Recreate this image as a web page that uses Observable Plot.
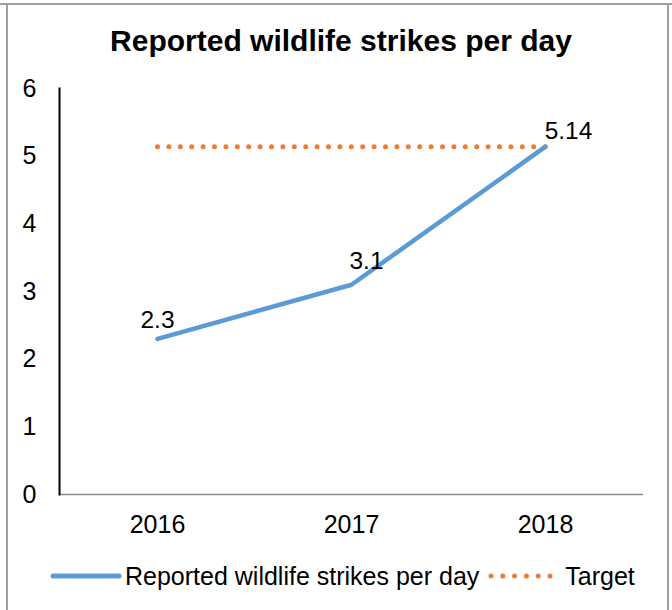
<!DOCTYPE html>
<html>
<head>
<meta charset="utf-8">
<script src="https://cdn.jsdelivr.net/npm/d3@7"></script>
<script src="https://cdn.jsdelivr.net/npm/@observablehq/plot@0.6"></script>
<style>
  html, body { margin: 0; padding: 0; background: #fff; }
  #wrap { position: relative; width: 672px; height: 610px; overflow: hidden; background: #fff;
          font-family: "Liberation Sans", Arial, sans-serif; color: #000; }
  .bline { position: absolute; background: #a0a0a0; }
  #title { position: absolute; left: 0; width: 682px; top: 23px; text-align: center;
           font-size: 30px; font-weight: bold; line-height: 36px; }
  #chart { position: absolute; left: 0; top: 0; }
  #legend { position: absolute; left: 50px; top: 561px; height: 30px; display: flex; align-items: center;
            font-size: 25px; white-space: nowrap; }
  #legend svg { display: block; }
</style>
</head>
<body>
<div id="wrap">
  <div class="bline" style="left:0;top:3px;width:672px;height:2px"></div>
  <div class="bline" style="left:6px;top:3px;width:2px;height:607px"></div>
  <div class="bline" style="left:667px;top:3px;width:2px;height:607px"></div>
  <div id="title"></div>
  <div id="chart"></div>
  <div id="legend"></div>
</div>
<script>
const titleText = "Reported wildlife strikes per day";
const years = ["2016", "2017", "2018"];
const strikes = [2.3, 3.1, 5.14];
const target = [5.14, 5.14, 5.14];
const yTicks = [0, 1, 2, 3, 4, 5, 6];
const seriesNames = ["Reported wildlife strikes per day", "Target"];

const blue = "#5B9BD5";
const orange = "#ED7D31";

const strikeRows = years.map((y, i) => ({year: y, value: strikes[i], label: String(strikes[i])}));
const targetRows = years.map((y, i) => ({year: y, value: target[i]}));

document.getElementById("title").textContent = titleText;

const labelOffsets = [
  {dx: 0, dy: -19},
  {dx: 15, dy: -24},
  {dx: 23, dy: -16}
];

const labelMarks = strikeRows.map((r, i) =>
  Plot.text([r], {x: "year", y: "value", text: "label", fontSize: 24.5, fill: "#000",
                  dx: labelOffsets[i].dx, dy: labelOffsets[i].dy})
);

const chart = Plot.plot({
  width: 672,
  height: 545,
  marginLeft: 59,
  marginRight: 29,
  marginTop: 88,
  marginBottom: 51,
  style: {fontFamily: "'Liberation Sans', Arial, sans-serif", fontSize: "25px", color: "#000", background: "transparent", overflow: "visible"},
  x: {type: "point", domain: years, padding: 0.5, label: null},
  y: {domain: [0, 6], label: null},
  marks: [
    Plot.axisY({ticks: yTicks, tickSize: 0, tickPadding: 23, fontSize: 25, label: null, tickFormat: d => String(d)}),
    Plot.axisX({tickSize: 0, tickPadding: 21, fontSize: 25, label: null}),
    Plot.ruleY([0], {stroke: "#8c8c8c", strokeWidth: 1.5, insetLeft: 0, insetRight: 0}),
    Plot.frame({anchor: "left", stroke: "#000", strokeWidth: 2}),
    Plot.line(targetRows, {x: "year", y: "value", stroke: orange, strokeWidth: 5,
                           strokeDasharray: "0 11.4", strokeLinecap: "round"}),
    Plot.line(strikeRows, {x: "year", y: "value", stroke: blue, strokeWidth: 4.5,
                           strokeLinecap: "round", strokeLinejoin: "round"}),
    ...labelMarks
  ]
});
document.getElementById("chart").appendChild(chart);

// Legend
const legend = d3.select("#legend");
const sw1 = legend.append("svg").attr("width", 72).attr("height", 12).style("margin-right", "3px");
sw1.append("line").attr("x1", 3).attr("x2", 69).attr("y1", 6).attr("y2", 6)
  .attr("stroke", blue).attr("stroke-width", 5).attr("stroke-linecap", "round");
legend.append("span").text(seriesNames[0]);
const sw2 = legend.append("svg").attr("width", 66).attr("height", 12).style("margin-left", "9px").style("margin-right", "11px");
sw2.append("line").attr("x1", 3).attr("x2", 63).attr("y1", 6).attr("y2", 6)
  .attr("stroke", orange).attr("stroke-width", 5).attr("stroke-dasharray", "0 11.8").attr("stroke-linecap", "round");
legend.append("span").text(seriesNames[1]);
</script>
</body>
</html>
